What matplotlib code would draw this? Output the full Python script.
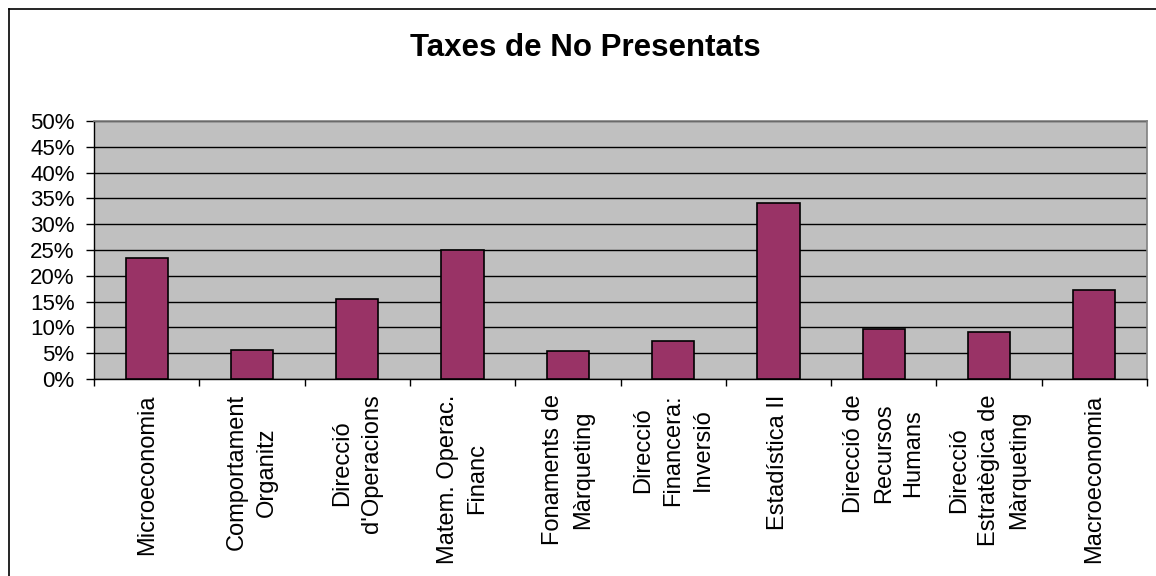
import matplotlib
matplotlib.use("Agg")
import matplotlib.pyplot as plt
from matplotlib.ticker import FixedLocator, NullFormatter, FuncFormatter
from matplotlib.lines import Line2D

title = "Taxes de No Presentats"
categories = [
    "Microeconomia",
    "Comportament\nOrganitz",
    "Direcció\nd'Operacions",
    "Matem. Operac.\nFinanc",
    "Fonaments de\nMàrqueting",
    "Direcció\nFinancera:\nInversió",
    "Estadística II",
    "Direcció de\nRecursos\nHumans",
    "Direcció\nEstratègica de\nMàrqueting",
    "Macroeconomia",
]
values = [0.234, 0.056, 0.156, 0.250, 0.054, 0.074, 0.342, 0.096, 0.091, 0.173]
yticks = [0.0, 0.05, 0.10, 0.15, 0.20, 0.25, 0.30, 0.35, 0.40, 0.45, 0.50]

plt.rcParams['font.family'] = ['Liberation Sans', 'DejaVu Sans']

fig = plt.figure(figsize=(11.56, 5.76), dpi=100)
ax = fig.add_axes([94/1156, 1 - 379/576, (1147-94)/1156, (379-121)/576])

x = list(range(len(categories)))
ax.set_facecolor('#C0C0C0')
ax.bar(x, values, width=0.4, color='#993366', edgecolor='black', linewidth=1.2, zorder=3)

ax.set_xlim(-0.5, len(categories) - 0.5)
ax.set_ylim(0, 0.5)
ax.set_yticks(yticks)
ax.yaxis.set_major_formatter(FuncFormatter(lambda v, p: f"{round(v*100)}%"))
ax.yaxis.grid(True, color='black', linewidth=1.0, zorder=1)
ax.set_axisbelow(True)

ax.set_xticks(x)
ax.set_xticklabels(categories, rotation=90, ha='center', va='top', fontsize=17, linespacing=1.45)
ax.xaxis.set_minor_locator(FixedLocator([i - 0.5 for i in range(len(categories) + 1)]))
ax.xaxis.set_minor_formatter(NullFormatter())
ax.tick_params(axis='x', which='major', length=0, pad=11)
ax.tick_params(axis='x', which='minor', length=5, width=1, direction='out', color='black')
ax.tick_params(axis='y', length=6, width=1, direction='out', labelsize=16, pad=8)

for s in ['top', 'right']:
    ax.spines[s].set_color('#808080')
    ax.spines[s].set_linewidth(1.2)
for s in ['left', 'bottom']:
    ax.spines[s].set_color('black')
    ax.spines[s].set_linewidth(1.0)

fig.text(585/1156, 1 - 48/576, title, ha='center', va='center', fontsize=22.5, fontweight='bold')

# outer chart border
fig.add_artist(Line2D([8.5/1156, 8.5/1156], [0, 1 - 9/576], transform=fig.transFigure, color='black', linewidth=1.2))
fig.add_artist(Line2D([8.5/1156, 1], [1 - 9/576, 1 - 9/576], transform=fig.transFigure, color='black', linewidth=1.2))

fig.savefig('out.png', dpi=100)
